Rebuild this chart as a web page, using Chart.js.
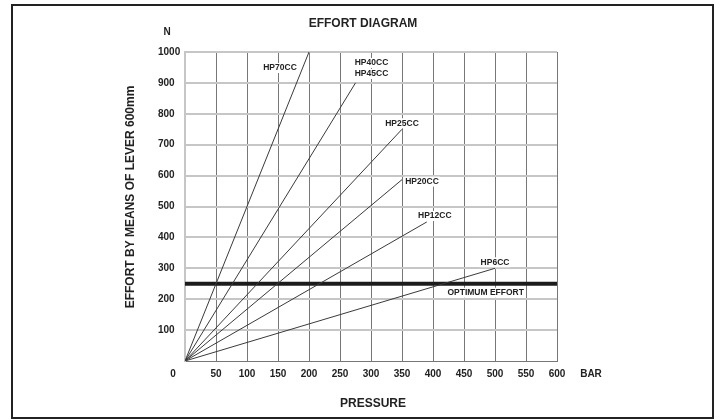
<!DOCTYPE html>
<html>
<head>
<meta charset="utf-8">
<script src="https://cdn.jsdelivr.net/npm/chart.js@4.4.1/dist/chart.umd.min.js"></script>
<style>
  html, body { margin: 0; padding: 0; background: #fff; }
  #wrap { width: 720px; height: 420px; position: relative; }
</style>
</head>
<body>
<div id="wrap"><canvas id="effortChart" width="720" height="420"></canvas></div>
<script>
// Series: every pump line starts at the origin and ends at (endPressure, endEffort)
const seriesNames = ['HP70CC', 'HP40CC', 'HP25CC', 'HP20CC', 'HP12CC', 'HP6CC'];
const seriesSubNames = ['', 'HP45CC', '', '', '', ''];
const endPressure = [200, 275, 350, 350, 390, 500];
const endEffort = [1000, 900, 750, 587, 450, 300];
const optimumEffort = 250;
const optimumLabel = 'OPTIMUM EFFORT';

// Axes
const pressureTicks = [0, 50, 100, 150, 200, 250, 300, 350, 400, 450, 500, 550, 600];
const effortTicks = [0, 100, 200, 300, 400, 500, 600, 700, 800, 900, 1000];

const FONT = "'Liberation Sans', Arial, sans-serif";
const INK = '#222';
const LABEL_FONT = 'bold 8.5px ' + FONT;

// label placement relative to each line's end point (pixels)
const labelOffsets = [[-29, 16], [16, -20], [0, -6], [20, 2], [8, -6], [0, -6]];

const datasets = seriesNames.map((name, i) => ({
    label: name,
    data: [{x: 0, y: 0}, {x: endPressure[i], y: endEffort[i]}],
    showLine: true,
    borderColor: '#3a3a3a',
    borderWidth: 1,
    pointRadius: 0,
    pointHoverRadius: 0
}));
datasets.push({
    label: optimumLabel,
    data: [{x: pressureTicks[0], y: optimumEffort}, {x: pressureTicks[pressureTicks.length - 1], y: optimumEffort}],
    showLine: true,
    borderColor: '#1c1c1c',
    borderWidth: 4,
    pointRadius: 0,
    pointHoverRadius: 0
});

// collect every line label with its pixel centre
function lineLabels(chart) {
    const xs = chart.scales.x, ys = chart.scales.y;
    const out = [];
    seriesNames.forEach((name, i) => {
        const px = xs.getPixelForValue(endPressure[i]) + labelOffsets[i][0];
        const py = ys.getPixelForValue(endEffort[i]) + labelOffsets[i][1];
        out.push([name, px, py]);
        if (seriesSubNames[i]) out.push([seriesSubNames[i], px, py + 11]);
    });
    out.push([optimumLabel, xs.getPixelForValue(485), ys.getPixelForValue(optimumEffort) + 9]);
    return out;
}

const decorations = {
    id: 'decorations',
    beforeDatasetsDraw(chart) {
        // white boxes behind the labels hide the grid
        const ctx = chart.ctx;
        ctx.save();
        ctx.font = LABEL_FONT;
        ctx.fillStyle = '#fff';
        lineLabels(chart).forEach(([t, x, y]) => {
            const w = ctx.measureText(t).width + 2;
            ctx.fillRect(x - w / 2, y - 5, w, 10);
        });
        ctx.restore();
    },
    afterDraw(chart) {
        const ctx = chart.ctx;
        ctx.save();
        ctx.fillStyle = INK;
        ctx.textAlign = 'center';
        ctx.textBaseline = 'middle';

        // frame
        ctx.strokeStyle = '#222';
        ctx.lineWidth = 2;
        ctx.strokeRect(12, 5, 701, 413);

        // titles
        ctx.font = 'bold 12px ' + FONT;
        ctx.fillText('EFFORT DIAGRAM', 363, 24);
        ctx.fillText('PRESSURE', 373, 404);
        ctx.save();
        ctx.translate(131, 197);
        ctx.rotate(-Math.PI / 2);
        ctx.fillText('EFFORT BY MEANS OF LEVER 600mm', 0, 0);
        ctx.restore();

        // units and origin
        ctx.font = 'bold 10px ' + FONT;
        ctx.fillText('N', 167, 32);
        ctx.fillText('BAR', 591, 374);
        ctx.fillText('0', 173, 374);

        // line labels
        ctx.font = LABEL_FONT;
        lineLabels(chart).forEach(([t, x, y]) => ctx.fillText(t, x, y));
        ctx.restore();
    }
};

new Chart(document.getElementById('effortChart'), {
    type: 'scatter',
    data: { datasets: datasets },
    options: {
        responsive: false,
        animation: false,
        events: [],
        layout: { padding: { left: 158, top: 52, right: 163, bottom: 0 } },
        plugins: { legend: { display: false }, tooltip: { enabled: false } },
        scales: {
            x: {
                type: 'linear',
                min: pressureTicks[0],
                max: pressureTicks[pressureTicks.length - 1],
                afterFit: s => { s.height = 59; },
                afterBuildTicks: s => { s.ticks = pressureTicks.map(v => ({value: v})); },
                grid: {
                    drawTicks: false,
                    color: c => c.tick && c.tick.value === 0 ? '#c6c6c6' : '#777',
                    lineWidth: c => c.tick && c.tick.value === 0 ? 2 : 1
                },
                border: { color: '#777', width: 1 },
                ticks: {
                    padding: 7,
                    maxRotation: 0,
                    autoSkip: false,
                    color: INK,
                    font: { family: FONT, size: 10, weight: 'bold' },
                    callback: v => v === 0 ? '' : v
                }
            },
            y: {
                type: 'linear',
                min: effortTicks[0],
                max: effortTicks[effortTicks.length - 1],
                afterFit: s => { s.width = 27; },
                afterBuildTicks: s => { s.ticks = effortTicks.map(v => ({value: v})); },
                grid: {
                    drawTicks: false,
                    color: c => c.tick && c.tick.value === 0 ? '#777' : '#c6c6c6',
                    lineWidth: c => c.tick && c.tick.value === 0 ? 1 : 2
                },
                border: { color: '#c6c6c6', width: 2 },
                ticks: {
                    crossAlign: 'far',
                    autoSkip: false,
                    color: INK,
                    font: { family: FONT, size: 10, weight: 'bold' },
                    callback: v => v === 0 ? '' : v
                }
            }
        }
    },
    plugins: [decorations]
});
</script>
</body>
</html>
